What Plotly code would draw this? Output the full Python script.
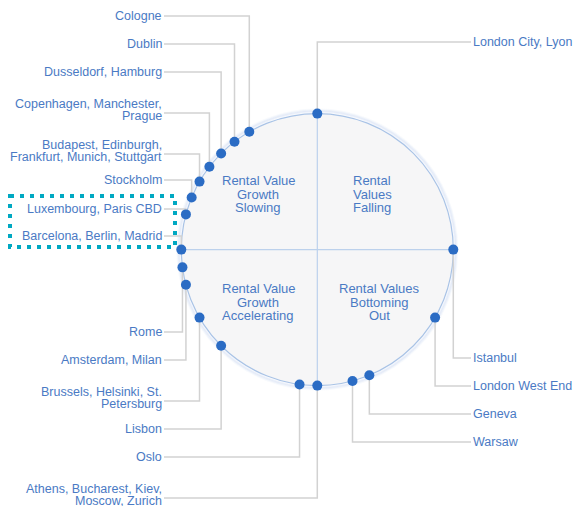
import math

import plotly.graph_objects as go

# Property clock: each location sits at a clock position (hours, 12 at top)
LOCATIONS = [
    "Cologne",
    "Dublin",
    "Dusseldorf, Hamburg",
    "Copenhagen, Manchester,<br>Prague",
    "Budapest, Edinburgh,<br>Frankfurt, Munich, Stuttgart",
    "Stockholm",
    "Luxembourg, Paris CBD",
    "Barcelona, Berlin, Madrid",
    "Rome",
    "Amsterdam, Milan",
    "Brussels, Helsinki, St.<br>Petersburg",
    "Lisbon",
    "Oslo",
    "Athens, Bucharest, Kiev,<br>Moscow, Zurich",
    "Warsaw",
    "Geneva",
    "London West End",
    "Istanbul",
    "London City, Lyon",
]
CLOCK_HOURS = [11, 10.75, 10.5, 10.25, 10, 9.75, 9.5, 9, 8.75, 8.5, 8, 7.5,
               6.25, 6, 5.5, 5.25, 4, 3, 0]

QUADRANTS = [
    "Rental Value<br>Growth<br>Slowing",
    "Rental<br>Values<br>Falling",
    "Rental Value<br>Growth<br>Accelerating",
    "Rental Values<br>Bottoming<br>Out",
]

# layout (pixel space of the 576x506 page)
W, H = 576, 506
CX, CY, R = 317.3, 249.6, 136
LEFT_X, RIGHT_X = 164, 471
LABEL_Y = [16, 44, 72, 113, 154, 180, 209, 236, 332, 360, 401, 429, 457,
           498, 442, 414, 386, 358, 42]
QUAD_POS = [(258, 194), (372, 194), (258, 302), (379, 302)]

TEXT_COLOR = "#4a7ac4"
DOT_COLOR = "#2b6cc4"
LEADER_COLOR = "#d2d2d2"
FONT = "Arial, Liberation Sans, sans-serif"

fig = go.Figure()

# circle glow, fill and border
for i, a in enumerate([0.05, 0.08, 0.11]):
    d = 4 - i
    fig.add_shape(type="circle", x0=CX - R - d, x1=CX + R + d, y0=CY - R - d, y1=CY + R + d,
                  line=dict(color=f"rgba(110,150,215,{a})", width=2), layer="below")
fig.add_shape(type="circle", x0=CX - R, x1=CX + R, y0=CY - R, y1=CY + R,
              fillcolor="#f6f6f7", line=dict(color="#a9c3e6", width=1.2), layer="below")
fig.add_shape(type="line", x0=CX - R, x1=CX + R, y0=CY, y1=CY,
              line=dict(color="#bcd1ec", width=1.2), layer="below")
fig.add_shape(type="line", x0=CX, x1=CX, y0=CY - R, y1=CY + R,
              line=dict(color="#bcd1ec", width=1.2), layer="below")

# positions on the circle
px = [CX + R * math.sin(math.radians(h * 30)) for h in CLOCK_HOURS]
py = [CY - R * math.cos(math.radians(h * 30)) for h in CLOCK_HOURS]

# leader lines
lx, ly = [], []
for h, x, y, yl in zip(CLOCK_HOURS, px, py, LABEL_Y):
    if 6 <= h < 12:
        lx += [LEFT_X, x, x, None]
    else:
        lx += [RIGHT_X, x, x, None]
    ly += [yl, yl, y, None]
fig.add_trace(go.Scatter(x=lx, y=ly, mode="lines", hoverinfo="skip",
                         line=dict(color=LEADER_COLOR, width=1.5), showlegend=False))

fig.add_trace(go.Scatter(x=px, y=py, mode="markers", text=[s.replace("<br>", " ") for s in LOCATIONS],
                         hoverinfo="text", marker=dict(size=10, color=DOT_COLOR),
                         showlegend=False))

# location labels, one annotation per line to keep the tight line spacing
for name, h, yl in zip(LOCATIONS, CLOCK_HOURS, LABEL_Y):
    lines = name.split("<br>")
    left = 6 <= h < 12
    for i, line in enumerate(lines):
        yy = yl if len(lines) == 1 else yl + 3 - 12 * (len(lines) - 1 - i)
        fig.add_annotation(x=LEFT_X - 1 if left else RIGHT_X + 1, y=yy, text=line,
                           xanchor="right" if left else "left", yanchor="middle",
                           showarrow=False, borderpad=0,
                           font=dict(family=FONT, size=12.5, color=TEXT_COLOR))

# quadrant titles
for name, (qx, qy) in zip(QUADRANTS, QUAD_POS):
    lines = name.split("<br>")
    for i, line in enumerate(lines):
        fig.add_annotation(x=qx, y=qy + 13.5 * (i - (len(lines) - 1) / 2), text=line,
                           xanchor="center", yanchor="middle", showarrow=False,
                           borderpad=0, font=dict(family=FONT, size=13, color=TEXT_COLOR))

# dotted highlight box
fig.add_shape(type="rect", x0=10, x1=175, y0=196, y1=247,
              line=dict(color="#00a8c2", width=4, dash="4px,6px"))

fig.update_xaxes(range=[0, W], visible=False, fixedrange=True)
fig.update_yaxes(range=[H, 0], visible=False, fixedrange=True)
fig.update_layout(
    width=W,
    height=H,
    margin=dict(l=0, r=0, t=0, b=0),
    plot_bgcolor="white",
    paper_bgcolor="white",
    showlegend=False,
)

# drop the browser's default body margin so the chart fills the window
fig.write_html("out.html", config={"displayModeBar": False},
               post_script="document.body.style.margin='0';")
